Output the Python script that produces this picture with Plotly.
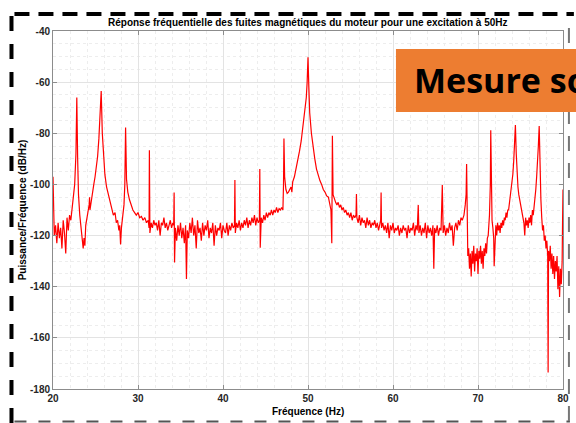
import plotly.graph_objects as go

# Spectre relevé (Hz, dB/Hz)
freq_hz = [
    20.0, 20.05, 20.15, 20.3, 20.45, 20.6, 20.75, 20.9, 21.05, 21.2,
    21.35, 21.5, 21.65, 21.8, 21.95, 22.1, 22.25, 22.4, 22.55, 22.7,
    22.8, 22.9, 23.0, 23.15, 23.3, 23.45, 23.55, 23.65, 23.75, 23.85,
    23.95, 24.1, 24.25, 24.3, 24.35, 24.5, 24.65, 24.8, 24.95, 25.1,
    25.25, 25.4, 25.55, 25.67, 25.8, 25.95, 26.1, 26.3, 26.5, 26.7,
    26.9, 27.1, 27.3, 27.45, 27.6, 27.75, 27.85, 27.95, 28.05, 28.2,
    28.35, 28.45, 28.54, 28.65, 28.8, 29.0, 29.2, 29.4, 29.6, 29.8,
    30.0, 30.2, 30.4, 30.6, 30.8, 31.0, 31.2, 31.3, 31.34, 31.4,
    31.55, 31.7, 31.85, 32.0, 32.15, 32.3, 32.45, 32.6, 32.75, 32.9,
    33.05, 33.2, 33.35, 33.5, 33.65, 33.8, 33.95, 34.1, 34.2, 34.25,
    34.3, 34.4, 34.55, 34.7, 34.85, 35.0, 35.15, 35.3, 35.45, 35.6,
    35.7, 35.8, 35.95, 36.1, 36.25, 36.4, 36.55, 36.7, 36.85, 37.0,
    37.15, 37.3, 37.45, 37.6, 37.75, 37.9, 38.05, 38.2, 38.35, 38.5,
    38.65, 38.8, 38.95, 39.1, 39.25, 39.4, 39.55, 39.7, 39.85, 40.0,
    40.15, 40.3, 40.45, 40.6, 40.75, 40.9, 41.05, 41.2, 41.35, 41.4,
    41.45, 41.6, 41.75, 41.9, 42.05, 42.2, 42.35, 42.5, 42.65, 42.8,
    42.95, 43.1, 43.25, 43.4, 43.55, 43.7, 43.85, 44.0, 44.15, 44.28,
    44.33, 44.38, 44.5, 44.65, 44.8, 44.95, 45.1, 45.25, 45.4, 45.55,
    45.7, 45.85, 46.0, 46.15, 46.3, 46.45, 46.6, 46.75, 46.9, 47.05,
    47.12, 47.17, 47.25, 47.4, 47.55, 47.7, 47.85, 48.0, 48.1, 48.2,
    48.4, 48.6, 48.8, 49.0, 49.2, 49.4, 49.6, 49.8, 49.9, 50.0,
    50.1, 50.2, 50.4, 50.6, 50.8, 51.0, 51.2, 51.4, 51.6, 51.8,
    52.0, 52.2, 52.4, 52.55, 52.7, 52.8, 52.87, 52.95, 53.1, 53.25,
    53.4, 53.55, 53.7, 53.85, 54.0, 54.15, 54.3, 54.45, 54.6, 54.75,
    54.9, 55.05, 55.2, 55.35, 55.5, 55.65, 55.7, 55.75, 55.9, 56.05,
    56.2, 56.35, 56.5, 56.65, 56.8, 56.95, 57.1, 57.25, 57.4, 57.55,
    57.7, 57.85, 58.0, 58.15, 58.3, 58.45, 58.55, 58.6, 58.65, 58.8,
    58.95, 59.1, 59.25, 59.4, 59.55, 59.7, 59.85, 60.0, 60.15, 60.3,
    60.45, 60.6, 60.75, 60.9, 61.05, 61.2, 61.35, 61.5, 61.65, 61.8,
    61.95, 62.1, 62.25, 62.4, 62.55, 62.7, 62.85, 62.97, 63.05, 63.2,
    63.35, 63.5, 63.65, 63.8, 63.95, 64.1, 64.25, 64.4, 64.55, 64.7,
    64.8, 64.9, 65.05, 65.2, 65.35, 65.5, 65.65, 65.8, 65.9, 66.05,
    66.2, 66.35, 66.5, 66.65, 66.8, 66.95, 67.1, 67.25, 67.4, 67.55,
    67.7, 67.85, 68.0, 68.15, 68.35, 68.5, 68.6, 68.66, 68.72, 68.8,
    68.9, 69.0, 69.1, 69.2, 69.3, 69.4, 69.5, 69.6, 69.7, 69.8,
    69.9, 70.0, 70.1, 70.2, 70.3, 70.4, 70.5, 70.6, 70.7, 70.8,
    70.9, 71.0, 71.1, 71.2, 71.35, 71.45, 71.5, 71.56, 71.65, 71.75,
    71.85, 71.9, 72.0, 72.1, 72.2, 72.3, 72.4, 72.5, 72.6, 72.7,
    72.8, 72.9, 73.0, 73.1, 73.2, 73.3, 73.4, 73.5, 73.6, 73.7,
    73.8, 73.9, 74.0, 74.1, 74.2, 74.3, 74.4, 74.5, 74.6, 74.7,
    74.8, 74.9, 75.0, 75.1, 75.2, 75.3, 75.4, 75.5, 75.6, 75.7,
    75.8, 75.9, 76.0, 76.1, 76.2, 76.3, 76.4, 76.5, 76.6, 76.7,
    76.8, 76.9, 77.0, 77.1, 77.2, 77.3, 77.4, 77.5, 77.6, 77.7,
    77.8, 77.9, 78.0, 78.1, 78.2, 78.25, 78.3, 78.4, 78.5, 78.6,
    78.7, 78.8, 78.9, 79.0, 79.1, 79.2, 79.3, 79.4, 79.5, 79.6,
    79.7, 79.8, 79.9, 79.95, 80.0,
]

psd_db = [
    -97, -114, -120, -116, -123, -115, -121, -117, -125, -114,
    -119, -127, -113, -118, -112, -114, -109, -106, -100, -88,
    -66, -90, -104, -112, -117, -123, -125, -121, -124, -116,
    -113, -111, -108, -105, -110, -106, -103, -100, -97, -93,
    -89, -82, -73, -63.5, -80, -90, -96, -101, -104, -107,
    -109, -112, -111, -115, -114, -118, -116, -123.5, -117, -113,
    -108, -100, -77.7, -98, -103, -106, -108, -110, -111, -112,
    -111, -113, -112.5, -114, -113, -115, -114, -117, -86.6, -119,
    -115, -117, -114, -116, -115, -118, -114, -120, -115, -116,
    -113, -117, -115, -118, -116, -114, -117, -115, -116, -103.2,
    -130.5, -117, -122, -116, -120, -115, -121, -117, -123, -116,
    -137, -118, -121, -115, -119, -113, -120, -116, -125, -114,
    -119, -117, -122, -115, -120, -116, -118, -114, -121, -117,
    -119, -115, -124, -116, -120, -117, -118, -115, -121, -116,
    -118, -119, -115, -120, -116, -118, -115, -117, -116, -98.3,
    -119, -115, -117, -114, -118, -115, -117, -114, -116, -113,
    -117, -114, -116, -113, -115, -112, -116, -113, -115, -114,
    -94, -124.8, -113, -115, -112, -114, -111, -113, -111, -112,
    -110, -112, -110, -111, -109, -111, -109.5, -110, -109, -110,
    -100, -82, -97, -102, -103.5, -103, -102, -101, -103, -99,
    -97, -94, -91, -87, -83, -78, -73, -66, -60, -50.3,
    -62, -72, -80, -86, -90, -94, -96.5, -98.5, -100, -102,
    -103, -104.5, -105, -107, -110, -123, -81, -104, -106, -107,
    -108, -107, -109, -108, -110, -109, -111, -110, -112, -111,
    -113, -111, -114, -112, -113, -112, -103.7, -113, -115, -112,
    -116, -113, -115, -114, -117, -113, -116, -114, -117, -115,
    -116, -114, -117, -115, -118, -116, -114, -103.2, -117, -115,
    -118, -116, -119, -115, -121, -116, -118, -115, -119, -117,
    -118, -116, -120, -117, -119, -116, -118, -117, -121, -116,
    -119, -117, -118, -115, -120, -116, -118, -108, -119, -116,
    -120, -117, -119, -115, -121, -116, -119, -117, -120, -116,
    -133, -117, -119, -116, -120, -117, -118, -100.2, -119, -116,
    -120, -117, -119, -115, -118, -116, -124, -117, -115, -118,
    -114, -116, -113, -114, -112, -108, -104, -92, -112, -128,
    -125, -133, -127, -136, -126, -131, -124, -134, -127, -130,
    -125, -135, -126, -129, -124, -131, -126, -133, -125, -128,
    -123, -127, -121, -120, -112, -100, -78.8, -105, -114, -117,
    -121, -132, -118, -116, -120, -115, -118, -116, -119, -115,
    -117, -114, -116, -113, -114, -111, -113, -110, -110, -107,
    -106, -103, -100, -96, -91, -85, -76.8, -88, -96, -101,
    -104, -106, -108, -110, -112, -114, -115, -120, -113, -116,
    -114, -117, -113, -115, -112, -116, -110, -112, -109, -105,
    -102, -97, -92, -85, -77.2, -95, -106, -113, -118, -116,
    -122, -120, -125, -122, -128, -173.5, -126, -130, -124, -133,
    -127, -135, -128, -137, -130, -134, -128, -141, -132, -144,
    -133, -139, -130, -114, -102,
]

x_ticks = [20, 30, 40, 50, 60, 70, 80]
y_ticks = [-180, -160, -140, -120, -100, -80, -60, -40]

TITLE = "Réponse fréquentielle des fuites magnétiques du moteur pour une excitation à 50Hz"

W, H = 576, 423
L, R, T, B = 53, 569, 31, 389  # zone de tracé en pixels


def px(x):
    return (x - L) / (R - L)


def py(y):
    return (B - y) / (B - T)


fig = go.Figure(go.Scatter(
    x=freq_hz, y=psd_db, mode="lines",
    line=dict(color="#ff0000", width=1.2),
    showlegend=False,
))

axis_font = dict(family="Liberation Sans, Arial", size=10, color="#262626")
axis_common = dict(
    showline=True, mirror="ticks", linecolor="#8c8c8c", linewidth=1,
    ticks="inside", ticklen=4, tickcolor="#8c8c8c",
    showgrid=True, gridcolor="#e3e3e3", gridwidth=1, zeroline=False,
    tickfont=dict(family="Liberation Sans, Arial", size=10, color="#262626", weight="bold"),
)

fig.update_xaxes(
    range=[20, 80], tickvals=x_ticks, ticktext=[str(v) for v in x_ticks],
    minor=dict(dtick=2, tick0=20, showgrid=True, gridcolor="#ededed", griddash="dot", ticks=""),
    **axis_common,
)
fig.update_yaxes(
    range=[-180, -40], tickvals=y_ticks, ticktext=[str(v) for v in y_ticks],
    minor=dict(dtick=5, tick0=-180, showgrid=True, gridcolor="#ededed", griddash="dot", ticks=""),
    **axis_common,
)

bold = dict(family="Liberation Sans, Arial", size=10, color="#000000", weight="bold")

annotations = [
    dict(text=TITLE, x=px(311), y=py(22), xref="paper", yref="paper",
         showarrow=False, font=bold, xanchor="center", yanchor="middle"),
    dict(text="Fréquence (Hz)", x=px(311), y=py(412), xref="paper", yref="paper",
         showarrow=False, font=bold, xanchor="center", yanchor="middle"),
    dict(text="Puissance/Fréquence (dB/Hz)", x=px(22), y=py(210), xref="paper", yref="paper",
         showarrow=False, font=bold, textangle=-90, xanchor="center", yanchor="middle"),
    dict(text="Mesure so", x=px(416), y=py(80), xref="paper", yref="paper",
         showarrow=False, xanchor="left", yanchor="middle",
         font=dict(family="Open Sans", size=34, color="#000000", weight="bold")),
]

shapes = [
    # cadre pointillé
    dict(type="line", xref="paper", yref="paper", x0=px(14), x1=px(580), y0=py(14), y1=py(14),
         line=dict(color="#000000", width=4, dash="15px,9px")),
    dict(type="line", xref="paper", yref="paper", x0=px(11), x1=px(11), y0=py(16), y1=py(423),
         line=dict(color="#000000", width=4, dash="15px,13px")),
    dict(type="line", xref="paper", yref="paper", x0=px(14), x1=px(576), y0=py(421.5), y1=py(421.5),
         line=dict(color="#555555", width=2, dash="12px,12px")),
    dict(type="line", xref="paper", yref="paper", x0=px(575), x1=px(575), y0=py(28), y1=py(423),
         line=dict(color="#777777", width=2, dash="15px,12px")),
    # encart orange
    dict(type="rect", xref="paper", yref="paper", x0=px(400), x1=px(590), y0=py(49), y1=py(112),
         fillcolor="#ed7d31", line=dict(width=0), layer="above"),
]

fig.update_layout(
    width=W, height=H, autosize=False,
    margin=dict(l=L, r=W - R, t=T, b=H - B),
    paper_bgcolor="#ffffff", plot_bgcolor="#ffffff",
    font=axis_font,
    annotations=annotations, shapes=shapes,
)

fig.write_html(
    "out.html",
    config={"displayModeBar": False},
    post_script="document.body.style.margin='0';document.body.style.overflow='hidden';",
)
